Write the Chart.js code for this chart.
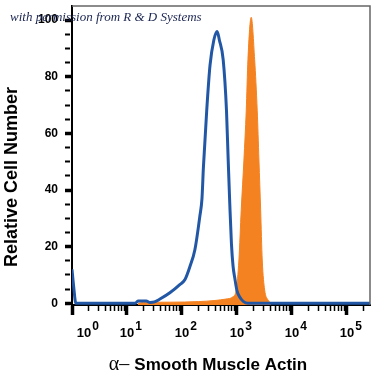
<!DOCTYPE html>
<html>
<head>
<meta charset="utf-8">
<script src="https://cdn.jsdelivr.net/npm/chart.js@4.4.1/dist/chart.umd.min.js"></script>
<style>
  html, body { margin: 0; padding: 0; background: #fff; }
  #wrap { width: 375px; height: 375px; }
</style>
</head>
<body>
<div id="wrap"><canvas id="c" width="375" height="375"></canvas></div>
<script>
// x values are log10 of fluorescence intensity
const isotypeLog   = [0, 0.03, 0.07, 1.15, 1.2, 1.35, 1.42, 1.5, 1.6, 1.78, 1.96, 2.055, 2.145, 2.236, 2.327, 2.364, 2.39, 2.45, 2.51, 2.58, 2.64, 2.68, 2.75, 2.81, 2.84, 2.87, 2.9, 2.93, 2.96, 3.0, 3.05, 3.12, 3.2, 5.42];
const isotypeCount = [12, 6, 0, 0, 0.8, 0.8, 0.3, 0.5, 1.5, 3.7, 6.6, 8.4, 13, 19, 31, 37, 48, 68, 84, 93, 96, 93, 86, 68, 51, 35, 21, 13, 9, 4.5, 2.2, 0.6, 0, 0];

const stainedLog   = [1.2, 1.3, 1.8, 2.3, 2.6, 2.8, 2.927, 2.987, 3.036, 3.078, 3.127, 3.169, 3.2, 3.26, 3.322, 3.369, 3.4, 3.431, 3.46, 3.504, 3.564, 3.618];
const stainedCount = [0, 0.3, 0.4, 0.6, 1, 1.5, 2.3, 4.7, 15.3, 33, 50.6, 68, 86, 101, 86, 68, 50.6, 33, 15.3, 4.7, 1.2, 0];

const decades = [0, 1, 2, 3, 4, 5];
const yTickValues = [0, 5, 10, 15, 20, 25, 30, 35, 40, 45, 50, 55, 60, 65, 70, 75, 80, 85, 90, 95, 100];

const X_MAX = 5.42;
const BLUE = "#2257a5";
const ORANGE = "#f58220";
const SANS = "'Liberation Sans', Arial, sans-serif";

function toPoints(xs, ys) {
  return xs.map((x, i) => ({ x: x, y: ys[i] }));
}

// major decade ticks plus 2..9 minor ticks
function buildXTicks() {
  const out = [];
  decades.forEach((d) => {
    out.push({ value: d, major: true });
    for (let k = 2; k <= 9; k++) {
      const v = d + Math.log10(k);
      if (v <= X_MAX) out.push({ value: v, major: false });
    }
  });
  return out;
}

const decorations = {
  id: "decorations",
  afterDraw(chart) {
    const ctx = chart.ctx;
    const a = chart.chartArea;
    const xs = chart.scales.x;
    ctx.save();

    // top and right frame
    ctx.strokeStyle = "#666";
    ctx.lineWidth = 1.5;
    ctx.beginPath();
    ctx.moveTo(a.left, a.top);
    ctx.lineTo(a.right, a.top);
    ctx.lineTo(a.right, a.bottom);
    ctx.stroke();

    // decade labels 10^n
    ctx.fillStyle = "#000";
    ctx.textBaseline = "alphabetic";
    decades.forEach((d) => {
      let px = xs.getPixelForValue(d);
      if (d === 0) px += 12;
      ctx.font = "bold 13px " + SANS;
      ctx.textAlign = "center";
      ctx.fillText("10", px, 337);
      const w = ctx.measureText("10").width;
      ctx.font = "bold 12px " + SANS;
      ctx.textAlign = "left";
      ctx.fillText(String(d), px + w / 2 + 1, 330);
    });

    // x axis title
    ctx.textAlign = "left";
    const pre = "\u03b1\u2013 ";
    const main = "Smooth Muscle Actin";
    ctx.font = "bold 17px " + SANS;
    const mainW = ctx.measureText(main).width;
    ctx.font = "20px 'Liberation Serif', 'DejaVu Serif', serif";
    const preW = ctx.measureText(pre).width;
    const startX = 208 - (preW + mainW) / 2;
    ctx.fillText(pre, startX, 370);
    ctx.font = "bold 17px " + SANS;
    ctx.fillText(main, startX + preW, 370);

    // y axis title
    ctx.save();
    ctx.translate(17, 177);
    ctx.rotate(-Math.PI / 2);
    ctx.textAlign = "center";
    ctx.font = "bold 18px " + SANS;
    ctx.fillText("Relative Cell Number", 0, 0);
    ctx.restore();

    // watermark
    ctx.fillStyle = "#1b2550";
    ctx.textAlign = "left";
    ctx.font = "italic 13px 'Liberation Serif', 'DejaVu Serif', serif";
    ctx.fillText("with permission from R & D Systems", 10, 21);

    ctx.restore();
  },
};

new Chart(document.getElementById("c"), {
  type: "line",
  data: {
    datasets: [
      {
        label: "Isotype",
        data: toPoints(isotypeLog, isotypeCount),
        borderColor: BLUE,
        borderWidth: 3,
        pointRadius: 0,
        fill: false,
        cubicInterpolationMode: "monotone",
        order: 0,
      },
      {
        label: "alpha-SMA",
        data: toPoints(stainedLog, stainedCount),
        borderColor: ORANGE,
        backgroundColor: ORANGE,
        borderWidth: 1,
        pointRadius: 0,
        fill: "start",
        cubicInterpolationMode: "monotone",
        order: 1,
      },
    ],
  },
  options: {
    responsive: false,
    animation: false,
    layout: { padding: { top: 6, right: 5, left: 0, bottom: 0 } },
    plugins: { legend: { display: false }, tooltip: { enabled: false } },
    scales: {
      x: {
        type: "linear",
        min: 0,
        max: X_MAX,
        afterBuildTicks: (scale) => { scale.ticks = buildXTicks(); },
        afterFit: (scale) => {
          scale.height = 70;
          scale.paddingLeft = 0;
          scale.paddingRight = 0;
        },
        ticks: { display: false, autoSkip: false },
        border: { color: "#000", width: 2 },
        grid: {
          drawOnChartArea: false,
          drawTicks: true,
          tickLength: 10,
          tickWidth: (c) => (c.tick && c.tick.major ? 3.5 : 1.5),
          tickBorderDash: (c) => (c.tick && c.tick.major ? [] : [5, 50]),
          tickColor: "#000",
        },
      },
      y: {
        min: -0.6,
        max: 105,
        afterBuildTicks: (scale) => {
          scale.ticks = yTickValues.map((v) => ({ value: v, major: v % 20 === 0 }));
        },
        afterFit: (scale) => {
          scale.width = 72;
          scale.paddingTop = 0;
          scale.paddingBottom = 0;
        },
        ticks: {
          autoSkip: false,
          padding: 7,
          color: "#000",
          font: { family: SANS, size: 12, weight: "bold" },
          callback: (v) => (v % 20 === 0 ? String(v) : ""),
        },
        border: { color: "#000", width: 2 },
        grid: {
          drawOnChartArea: false,
          drawTicks: true,
          tickLength: 7,
          tickWidth: (c) => (c.tick && c.tick.major ? 3.5 : 2),
          tickBorderDash: (c) => (c.tick && c.tick.major ? [] : [5, 50]),
          tickColor: "#000",
        },
      },
    },
  },
  plugins: [decorations],
});
</script>
</body>
</html>
